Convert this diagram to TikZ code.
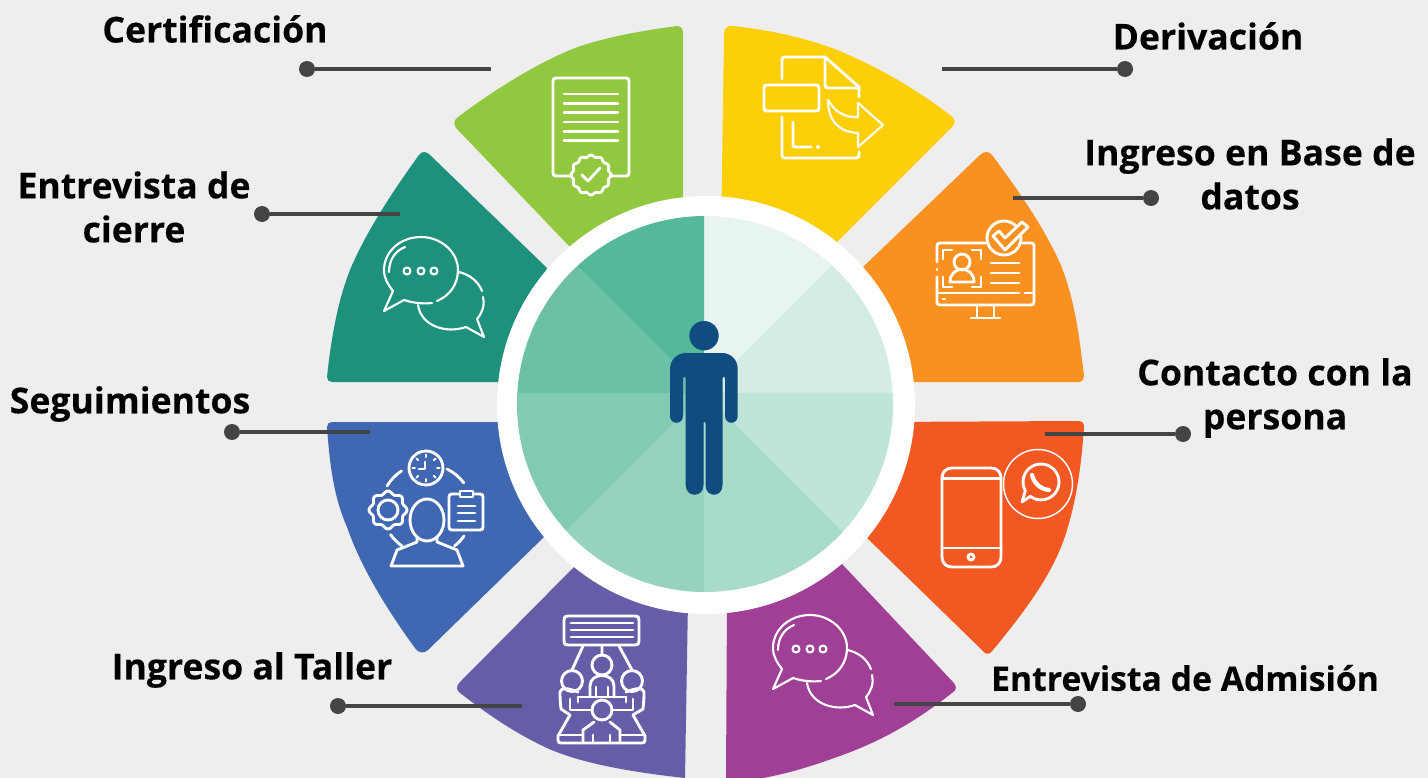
\documentclass[tikz,border=0pt]{standalone}
\usepackage{fontspec}
\setmainfont{Open Sans}
\definecolor{bgc}{HTML}{EEEEEE}
\definecolor{cYel}{HTML}{FDCF09}
\definecolor{cOra}{HTML}{F99120}
\definecolor{cRed}{HTML}{F25822}
\definecolor{cMag}{HTML}{9F3F96}
\definecolor{cPur}{HTML}{665DA8}
\definecolor{cBlu}{HTML}{4068B2}
\definecolor{cTea}{HTML}{1D917C}
\definecolor{cGre}{HTML}{92C83F}
\definecolor{cMan}{HTML}{104C80}
\definecolor{cLin}{HTML}{444444}
\definecolor{wA}{HTML}{E8F4F0}
\definecolor{wB}{HTML}{D4EDE4}
\definecolor{wC}{HTML}{BFE5D9}
\definecolor{wD}{HTML}{A8DBCA}
\definecolor{wE}{HTML}{96D3BE}
\definecolor{wF}{HTML}{82CAB1}
\definecolor{wG}{HTML}{6CC0A6}
\definecolor{wH}{HTML}{55B89A}
\tikzset{
  icon/.style={draw=white,line width=2.15pt,line cap=round,line join=round},
  iconthin/.style={draw=white,line width=1.6pt,line cap=round,line join=round},
  lead/.style={draw=cLin,line width=3pt},
  leaddot/.style={circle,fill=cLin,minimum size=12pt,inner sep=0pt},
  lab/.style={font=\bfseries\fontsize{26.7}{33}\selectfont\addfontfeature{FakeBold=0.3},align=center,inner sep=0pt,text=black},
  labsmall/.style={font=\bfseries\fontsize{25.3}{33}\selectfont\addfontfeature{FakeBold=0.3},align=center,inner sep=0pt,text=black},
}
\newcommand{\bubblepair}{%
  \draw[iconthin] (393,291) -- (384,311) -- (404,300) .. controls (413,303) and (423,304) .. (432,303);
  \draw[iconthin] (437,301) .. controls (449,296) and (458,285) .. (458,270)
     .. controls (458,252) and (441,237) .. (421,237)
     .. controls (400,237) and (384,252) .. (384,270)
     .. controls (384,278) and (388,285) .. (393,291);
  \draw[iconthin] (389,272) .. controls (389,260) and (395,251) .. (405,247);
  \draw[iconthin] (407,271) circle[radius=3.5] (421,271) circle[radius=3.5] (434,271) circle[radius=3.5];
  \draw[iconthin] (459,272) .. controls (470,275) and (478,281) .. (482,291);
  \draw[iconthin] (483,297) .. controls (485,306) and (482,313) .. (477,319) -- (484,337) -- (466,327)
     .. controls (446,334) and (421,326) .. (418,305);
}
\begin{document}
\begin{tikzpicture}[x=0.75pt,y=-0.75pt]
\useasboundingbox (0,0) rectangle (1428,778);
\fill[bgc] (0,0) rectangle (1428,778);
% sectors
\fill[cYel] (721,240) -- (724,34) .. controls (724,28) and (728,25) .. (733,26)
  .. controls (780,31) and (825,43) .. (853,57) .. controls (885,71) and (920,92) .. (950,115)
  .. controls (956,119) and (956,123) .. (952,127) -- (837,242) -- cycle;
\fill[cOra] (863,267) -- (980,155) .. controls (984,151) and (989,151) .. (992,155)
  .. controls (1022,195) and (1045,230) .. (1060,263) .. controls (1072,292) and (1078,325) .. (1082,360)
  -- (1084,375) .. controls (1084,380) and (1082,382) .. (1078,382) -- (880,382) -- cycle;
\fill[cRed] (880,422) -- (1078,421) .. controls (1082,421) and (1084,423) .. (1084,427)
  .. controls (1081,470) and (1076,500) .. (1067,530) .. controls (1055,570) and (1030,605) .. (993,650)
  .. controls (990,655) and (985,655) .. (982,650) -- (867,538) -- cycle;
\fill[cMag] (727,600) -- (842,564) -- (953,682) .. controls (957,686) and (957,690) .. (952,693)
  .. controls (915,722) and (880,742) .. (837,757) .. controls (812,766) and (790,773) .. (763,778)
  -- (726,778) -- cycle;
\fill[cPur] (574,567) -- (460,682) .. controls (456,686) and (456,690) .. (460,693)
  .. controls (490,716) and (515,733) .. (547,748) .. controls (580,763) and (630,772) .. (685,778)
  -- (688,600) -- cycle;
\fill[cBlu] (510,422) -- (332,422) .. controls (329,422) and (327,424) .. (327,427)
  .. controls (330,470) and (335,500) .. (347,527) .. controls (360,565) and (385,607) .. (415,648)
  .. controls (418,653) and (424,654) .. (428,650) -- (544,537) -- cycle;
\fill[cTea] (547,268) -- (430,155) .. controls (426,151) and (422,151) .. (419,155)
  .. controls (390,195) and (368,230) .. (353,263) .. controls (340,292) and (332,330) .. (327,377)
  .. controls (327,380) and (329,382) .. (332,382) -- (510,382) -- cycle;
\fill[cGre] (569,246) -- (458,130) .. controls (453,125) and (453,121) .. (458,117)
  .. controls (490,93) and (530,67) .. (570,50) .. controls (600,38) and (640,31) .. (677,26)
  .. controls (681,26) and (683,29) .. (683,33) -- (683,240) -- cycle;
% hub
\fill[white] (706,405) circle[radius=209];
\begin{scope}
\clip (705,404) circle[radius=188];
\fill[wA] (704,393) -- (704,100) -- (1004,93) -- cycle;
\fill[wB] (704,393) -- (1004,93) -- (1100,393) -- cycle;
\fill[wC] (704,393) -- (1100,393) -- (1004,693) -- cycle;
\fill[wD] (704,393) -- (1004,693) -- (704,700) -- cycle;
\fill[wE] (704,393) -- (704,700) -- (404,693) -- cycle;
\fill[wF] (704,393) -- (404,693) -- (300,393) -- cycle;
\fill[wG] (704,393) -- (300,393) -- (404,93) -- cycle;
\fill[wH] (704,393) -- (404,93) -- (704,100) -- cycle;
\end{scope}
% person
\fill[cMan] (704,335.7) circle[radius=14.7];
\fill[cMan] (686,353) -- (722,353) .. controls (731,353) and (737.7,360) .. (737.7,369)
  -- (737.7,416) .. controls (737.7,425) and (725,425) .. (725,416) -- (725,379)
  .. controls (725,376) and (722.5,376) .. (722.5,379)
  -- (722.5,485) .. controls (722.5,498) and (705.5,498) .. (705.5,485) -- (705.5,424)
  .. controls (705.5,421) and (703.5,421) .. (703.5,424)
  -- (703.5,485) .. controls (703.5,498) and (685.7,498) .. (685.7,485) -- (685.7,379)
  .. controls (685.7,376) and (683,376) .. (683,379) -- (683,416)
  .. controls (683,425) and (670,425) .. (670,416) -- (670,369)
  .. controls (670,360) and (677,353) .. (686,353) -- cycle;
% certificate icon
\draw[icon] (572,176) -- (556,176) .. controls (554,176) and (553,175) .. (553,173) -- (553,81)
  .. controls (553,79) and (554,78) .. (556,78) -- (626,78) .. controls (628,78) and (629,79) .. (629,81)
  -- (629,173) .. controls (629,175) and (628,176) .. (626,176) -- (610,176);
\foreach \yy in {94,103.3,112.7,122,131.3,140.7}{\draw[icon] (564,\yy) -- (618,\yy);}
\draw[icon] plot[domain=0:360,samples=121,smooth] ({591+(19+1*cos(12*\x))*cos(\x)},{175+(19+1*cos(12*\x))*sin(\x)}) -- cycle;
\draw[icon] (582,175) -- (588,181) -- (600,168);
% derivation icon
\draw[icon] (782,79) -- (782,60) .. controls (782,58) and (783,57) .. (785,57) -- (825,57) -- (859,87) -- (859,97);
\draw[icon] (825,57) -- (825,85) .. controls (825,87) and (826,88) .. (828,88) -- (859,88);
\draw[icon] (767,85) -- (816,85) .. controls (818,85) and (819,86) .. (819,88) -- (819,108)
  .. controls (819,110) and (818,111) .. (816,111) -- (767,111) .. controls (765,111) and (764,110) .. (764,108)
  -- (764,88) .. controls (764,86) and (765,85) .. (767,85) -- cycle;
\draw[icon] (782,117) -- (782,155) .. controls (782,157) and (783,158) .. (785,158) -- (856,158)
  .. controls (858,158) and (859,157) .. (859,155) -- (859,152);
\draw[icon] (793,122) -- (793,145) .. controls (793,146) and (794,147) .. (795,147) -- (811,147);
\fill[white] (818,147) circle[radius=2];
\draw[iconthin] (883,125) -- (858,103) -- (858,117) .. controls (845,118) and (835,112) .. (828,100)
  .. controls (828,120) and (838,132) .. (858,133) -- (858,147) -- cycle;
% monitor icon
\draw[icon] (937,262) -- (937,246) .. controls (937,244) and (938,243) .. (940,243) -- (988,243);
\draw[icon] (1022,243) -- (1031,243) .. controls (1033,243) and (1034,244) .. (1034,246)
  -- (1034,302) .. controls (1034,304) and (1033,305) .. (1031,305) -- (940,305)
  .. controls (938,305) and (937,304) .. (937,302) -- (937,277);
\draw[icon] (937,269) -- (937,270);
\draw[icon] (937,293) -- (1019,293) (1025,293) -- (1034,293);
\draw[icon] (943,299) -- (945,299);
\draw[icon] (977,305) -- (977,318) (994,305) -- (994,318) (971,318) -- (1000,318);
\draw[icon] (1004,238) circle[radius=17];
\draw[icon,fill=cOra] (993,236) -- (999,231) -- (1005,238) -- (1022,222) -- (1028,227) -- (1005,250) -- cycle;
\draw[icon] (962,262) circle[radius=8];
\draw[icon] (950,282) .. controls (950,265) and (974,265) .. (974,282) -- cycle;
\draw[icon] (943,259) -- (943,250) -- (952,250) (972,250) -- (981,250) -- (981,259)
  (943,277) -- (943,287) -- (952,287) (972,287) -- (981,287) -- (981,277);
\foreach \yy in {263,273,283}{\draw[icon] (991,\yy) -- (1019,\yy);}
% chat icons
\bubblepair
\begin{scope}[shift={(389,378)}]\bubblepair\end{scope}
% phone icon
\draw[icon] (952,468) -- (991,468) .. controls (997,468) and (1001,472) .. (1001,478) -- (1001,557)
  .. controls (1001,563) and (997,567) .. (991,567) -- (952,567) .. controls (946,567) and (942,563) .. (942,557)
  -- (942,478) .. controls (942,472) and (946,468) .. (952,468) -- cycle;
\draw[icon] (942,478.5) -- (1001,478.5) (942,548) -- (1001,548);
\draw[icon] (971,557) circle[radius=3];
\draw[draw=white,line width=1.1pt] (1038,484) circle[radius=34.5];
\draw[icon] (1041,482) ++(151:18) arc[start angle=151,end angle=487,radius=18] -- (1022,502) -- cycle;
\draw[draw=white,line width=3.2pt,line cap=round] (1032,475) .. controls (1034,483) and (1040,489) .. (1049,490);
% follow-ups icon
\draw[icon] (426,468) circle[radius=17];
\foreach \a in {0,45,...,315}{\draw[icon,line width=1.5pt] (426,468) ++(\a:11) -- ++(\a:2.5);}
\draw[icon] (425,462) -- (425,469) -- (419,469);
\draw[icon] (387,486) arc[start angle=211,end angle=237,radius=46.5];
\draw[icon] (447,469) arc[start angle=296,end angle=323,radius=46.5];
\draw[icon] (464,536) arc[start angle=35,end angle=52,radius=46.5];
\draw[icon] (402,546) arc[start angle=125,end angle=145,radius=46.5];
\draw[icon] plot[domain=0:360,samples=97,smooth] ({388+(17.5+1.5*cos(8*\x))*cos(\x)},{510+(17.5+1.5*cos(8*\x))*sin(\x)}) -- cycle;
\draw[icon] (388,510) circle[radius=10];
\draw[icon] (427,520) ellipse[x radius=17,y radius=21];
\draw[icon] (417,537) -- (417,542) -- (397,550) -- (391,566) -- (463,566) -- (457,550) -- (437,542) -- (437,537);
\draw[icon] (449,497) .. controls (449,495) and (450,494) .. (452,494) -- (480,494)
  .. controls (482,494) and (483,495) .. (483,497) -- (483,527) .. controls (483,529) and (482,530) .. (480,530)
  -- (452,530) .. controls (450,530) and (449,529) .. (449,527) -- cycle;
\draw[icon,fill=cBlu] (460,491) rectangle (473,497);
\foreach \yy in {506,513,521}{\draw[icon] (458,\yy) -- (475,\yy);}
% workshop icon
\draw[icon] (568,616) -- (635,616) .. controls (638,616) and (639,617) .. (639,620) -- (639,641)
  .. controls (639,644) and (638,645) .. (635,645) -- (568,645) .. controls (565,645) and (564,644) .. (564,641)
  -- (564,620) .. controls (564,617) and (565,616) .. (568,616) -- cycle;
\foreach \yy in {623,630,637}{\draw[icon] (571,\yy) -- (633,\yy);}
\draw[icon] (583,646) -- (572,670) (602,646) -- (602,655) (619,646) -- (632,670);
\draw[icon] (602,665) circle[radius=10] (572,681) circle[radius=10.5] (632,681) circle[radius=10.5] (602,710) circle[radius=10];
\draw[icon] (590,697) -- (590,686) .. controls (590,672) and (614,672) .. (614,686) -- (614,697);
\draw[icon] (596,687) -- (596,697) (608,687) -- (608,697);
\draw[icon] (578,697) -- (626,697);
\draw[icon] (570,715) -- (558,736) -- (558,740) .. controls (558,742) and (559,743) .. (561,743) -- (642,743)
  .. controls (644,743) and (645,742) .. (645,740) -- (645,736) -- (633,715);
\draw[icon] (558,735) -- (583,735) (620,735) -- (645,735);
\draw[icon] (570,715) -- (561,709) .. controls (560,700) and (560,695) .. (560,692) .. controls (561,687) and (568,688) .. (578,692);
\draw[icon] (633,715) -- (643,709) .. controls (644,700) and (644,695) .. (644,692) .. controls (643,687) and (636,688) .. (626,692);
\draw[icon] (570,699) -- (570,710) -- (592,710) (578,697) -- (578,702);
\draw[icon] (633,699) -- (633,710) -- (612,710) (626,697) -- (626,702);
\draw[icon] (583,743) -- (583,730) -- (594,722) (620,743) -- (620,730) -- (610,722);
\draw[icon] (593,735) -- (593,743) (610,735) -- (610,743);
% leaders
\node[leaddot] (d1) at (307,69) {}; \coordinate (e1) at (491,69); \draw[lead] (d1) -- (e1);
\node[leaddot] (d2) at (1125,69) {}; \coordinate (e2) at (942,69); \draw[lead] (d2) -- (e2);
\node[leaddot] (d3) at (1151,198) {}; \coordinate (e3) at (1013,198); \draw[lead] (d3) -- (e3);
\node[leaddot] (d4) at (1183,434) {}; \coordinate (e4) at (1045,434); \draw[lead] (d4) -- (e4);
\node[leaddot] (d5) at (1078,704) {}; \coordinate (e5) at (894,704); \draw[lead] (d5) -- (e5);
\node[leaddot] (d6) at (338,706) {}; \coordinate (e6) at (522,706); \draw[lead] (d6) -- (e6);
\node[leaddot] (d7) at (232,432) {}; \coordinate (e7) at (370,432); \draw[lead] (d7) -- (e7);
\node[leaddot] (d8) at (262,214) {}; \coordinate (e8) at (400,214); \draw[lead] (d8) -- (e8);
% labels
\node[lab] (t1) at (215,29) {Certificación};
\node[lab] (t2) at (1208,36) {Derivación};
\node[lab] (t3) at (1250,174) {Ingreso en Base de\\datos};
\node[lab] (t4) at (1275,398) {Contacto con la\\persona};
\node[labsmall] (t5) at (1185,678) {Entrevista de Admisión};
\node[lab] (t6) at (252,670) {Ingreso al Taller};
\node[lab] (t7) at (130,404) {Seguimientos};
\node[lab] (t8) at (134,207) {Entrevista de\\cierre};
\end{tikzpicture}
\end{document}
